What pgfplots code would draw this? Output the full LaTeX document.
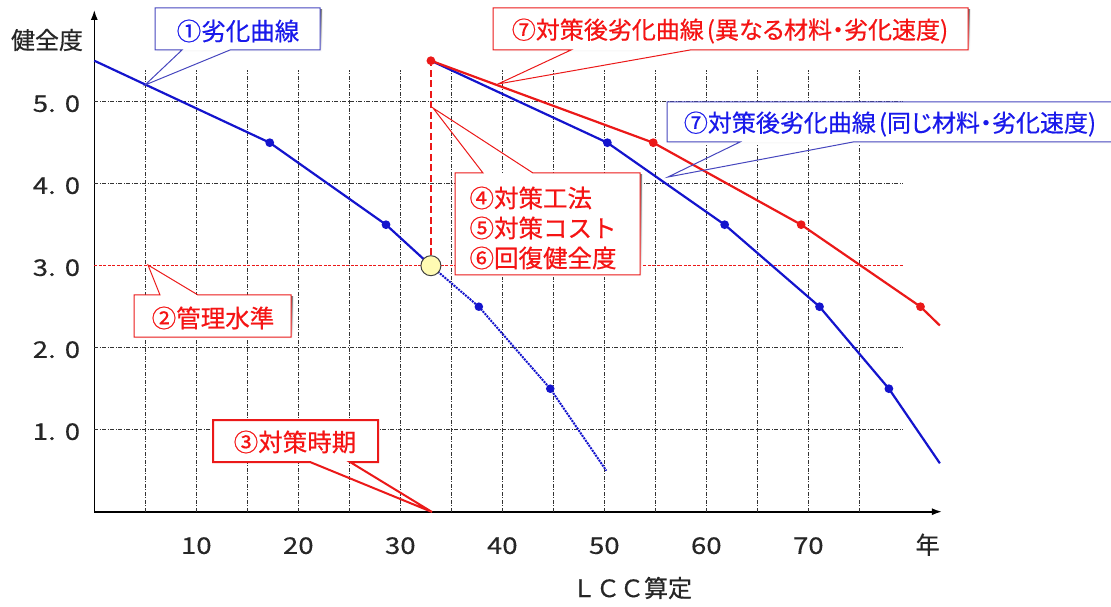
\documentclass[border=0pt]{standalone}
\usepackage{fontspec}
\setmainfont{Noto Sans CJK JP}[FakeBold=0.5]
\newfontfamily\pfont{Noto Sans CJK JP}[RawFeature=+palt, FakeBold=0.5]
\newfontfamily\numfont{Noto Sans CJK JP}[FakeStretch=1.2, FakeBold=0.3]
\usepackage{pgfplots}
\pgfplotsset{compat=1.18}
\usetikzlibrary{arrows.meta}
\definecolor{cblue}{RGB}{20,20,205}
\definecolor{cred}{RGB}{235,25,25}
\definecolor{tblue}{RGB}{25,25,235}
\definecolor{tred}{RGB}{245,20,20}
\definecolor{bblue}{RGB}{70,70,190}
\definecolor{shade}{RGB}{150,150,150}
\begin{document}
\begin{tikzpicture}
\path[use as bounding box] (0,0) rectangle (1111pt,606pt);
\begin{axis}[
  at={(94.3pt,94.3pt)}, anchor=south west,
  x=10.2pt, y=82pt,
  xmin=0, xmax=83.1, ymin=0, ymax=6.12,
  enlargelimits=false,
  axis lines=left,
  axis line style={line width=1.6pt, -{Latex[length=10pt,width=7pt]}},
  xtick={10,20,30,40,50,60,70,81.7},
  xticklabels={10,20,30,40,50,60,70,{\fontsize{24}{26}\selectfont\rmfamily 年}},
  ytick={1,2,3,4,5},
  yticklabels={1.\hspace{9pt}0,2.\hspace{9pt}0,3.\hspace{9pt}0,4.\hspace{9pt}0,5.\hspace{9pt}0},
  major tick length=0pt,
  tick label style={font=\fontsize{23}{26}\numfont, inner sep=0pt, text=black!85},
  xticklabel style={text height=17pt, text depth=0pt, yshift=-25pt},
  yticklabel style={xshift=-14pt, yshift=-2pt},
  clip=false,
]
% grid
\pgfplotsinvokeforeach{5,10,...,75}{
  \draw[black!80, line width=0.8pt, dash pattern=on 4pt off 1.5pt on 1pt off 1.5pt] (axis cs:#1,0) -- (axis cs:#1,5.39);
}
\pgfplotsinvokeforeach{1,2,4,5}{
  \draw[black!80, line width=0.8pt, dash pattern=on 4pt off 1.5pt on 1pt off 1.5pt] (axis cs:0,#1) -- (axis cs:79.3,#1);
}
\draw[cred, line width=1.2pt, dash pattern=on 3pt off 1.5pt] (axis cs:0,3) -- (axis cs:79.3,3);

% original deterioration curve
\addplot[cblue, line width=2.2pt, mark=*, mark size=3.2pt, mark indices={2,3}] coordinates {(0,5.5)(17.2,4.5)(28.6,3.5)(33,3.0)};
\addplot[cblue, line width=2pt, densely dotted, mark=*, mark size=3.2pt, mark indices={2,3}, mark options={solid}] coordinates {(33,3.0)(37.7,2.5)(44.7,1.5)(50.2,0.5)};
% after treatment, same material
\addplot[cblue, line width=2.2pt, mark=*, mark size=3.2pt, mark indices={2,3,4,5}] coordinates {(33,5.5)(50.3,4.5)(61.8,3.5)(71.1,2.5)(77.9,1.5)(82.9,0.59)};
% after treatment, different material
\addplot[cred, line width=2.2pt, mark=*, mark size=3.2pt, mark indices={1,2,3,4}] coordinates {(33,5.5)(54.8,4.5)(69.3,3.5)(81,2.5)(82.9,2.27)};
% treatment point
\addplot[only marks, mark=*, mark size=10pt, mark options={fill=yellow!30, draw=black!75, line width=1pt}] coordinates {(33,3)};
\addplot[cred, line width=1.8pt, dash pattern=on 7pt off 3.5pt] coordinates {(33,3.0)(33,5.45)};
\end{axis}

\begin{scope}[shift={(0pt,606pt)}, x=1pt, y=-1pt]
% axis titles
\node[font=\fontsize{24}{28}\selectfont, text=black!85] at (47,40) {健全度};
\node[font=\fontsize{24}{28}\selectfont, text=black!85] at (632,588) {ＬＣＣ算定};

% (1) deterioration curve
\fill[shade] (157,10) rectangle (322,52);
\fill[white] (155,8) rectangle (320,50);
\draw[bblue, line width=1pt, line join=miter] (155,8) -- (320,8) -- (320,50) -- (230,50) -- (145,85) -- (182,50) -- (155,50) -- cycle;
\node[text=tblue, font=\fontsize{24.5}{28}\selectfont] at (238,31) {①劣化曲線};

% (2) management level
\fill[shade] (136,297) rectangle (293,339);
\fill[white] (134,295) rectangle (291,337);
\draw[cred, line width=1pt, line join=miter] (134,295) -- (160,295) -- (148,265) -- (198,295) -- (291,295) -- (291,337) -- (134,337) -- cycle;
\node[text=tred, font=\fontsize{24.5}{28}\selectfont] at (213,318) {②管理水準};

% (3) treatment time
\fill[white] (213,420) rectangle (378,462);
\draw[cred, line width=2pt, line join=miter] (213,420) -- (378,420) -- (378,462) -- (350,462) -- (432,512) -- (310,462) -- (213,462) -- cycle;
\node[text=tred, font=\fontsize{24.5}{28}\selectfont] at (295,442) {③対策時期};

% (4)(5)(6)
\fill[shade] (457,175) rectangle (642,277);
\fill[white] (455,173) rectangle (640,275);
\draw[cred, line width=1pt, line join=miter] (455,173) -- (483,173) -- (433,108) -- (533,173) -- (640,173) -- (640,275) -- (455,275) -- cycle;
\node[anchor=west, text=tred, align=left, font=\fontsize{24.5}{30}\selectfont] at (466,228) {④対策工法\\⑤対策コスト\\⑥回復健全度};

% (7) different material
\fill[shade] (495,10) rectangle (970,52);
\fill[white] (493,8) rectangle (968,50);
\draw[cred, line width=1pt, line join=miter] (493,8) -- (968,8) -- (968,50) -- (690,50) -- (498,84) -- (571,50) -- (493,50) -- cycle;
\node[text=tred, font=\fontsize{24}{28}\pfont] at (730,31) {⑦対策後劣化曲線\hspace{3pt}(異なる材料・劣化速度)};

% (7) same material
\fill[shade] (669,104) rectangle (1115,144);
\fill[white] (667,102) rectangle (1113,142);
\draw[bblue, line width=1pt, line join=miter] (1113,102) -- (667,102) -- (667,142) -- (740,142) -- (668,177) -- (853,142) -- (1113,142);
\node[text=tblue, font=\fontsize{24}{28}\pfont] at (890,124) {⑦対策後劣化曲線\hspace{3pt}(同じ材料・劣化速度)};
\end{scope}
\end{tikzpicture}
\end{document}
